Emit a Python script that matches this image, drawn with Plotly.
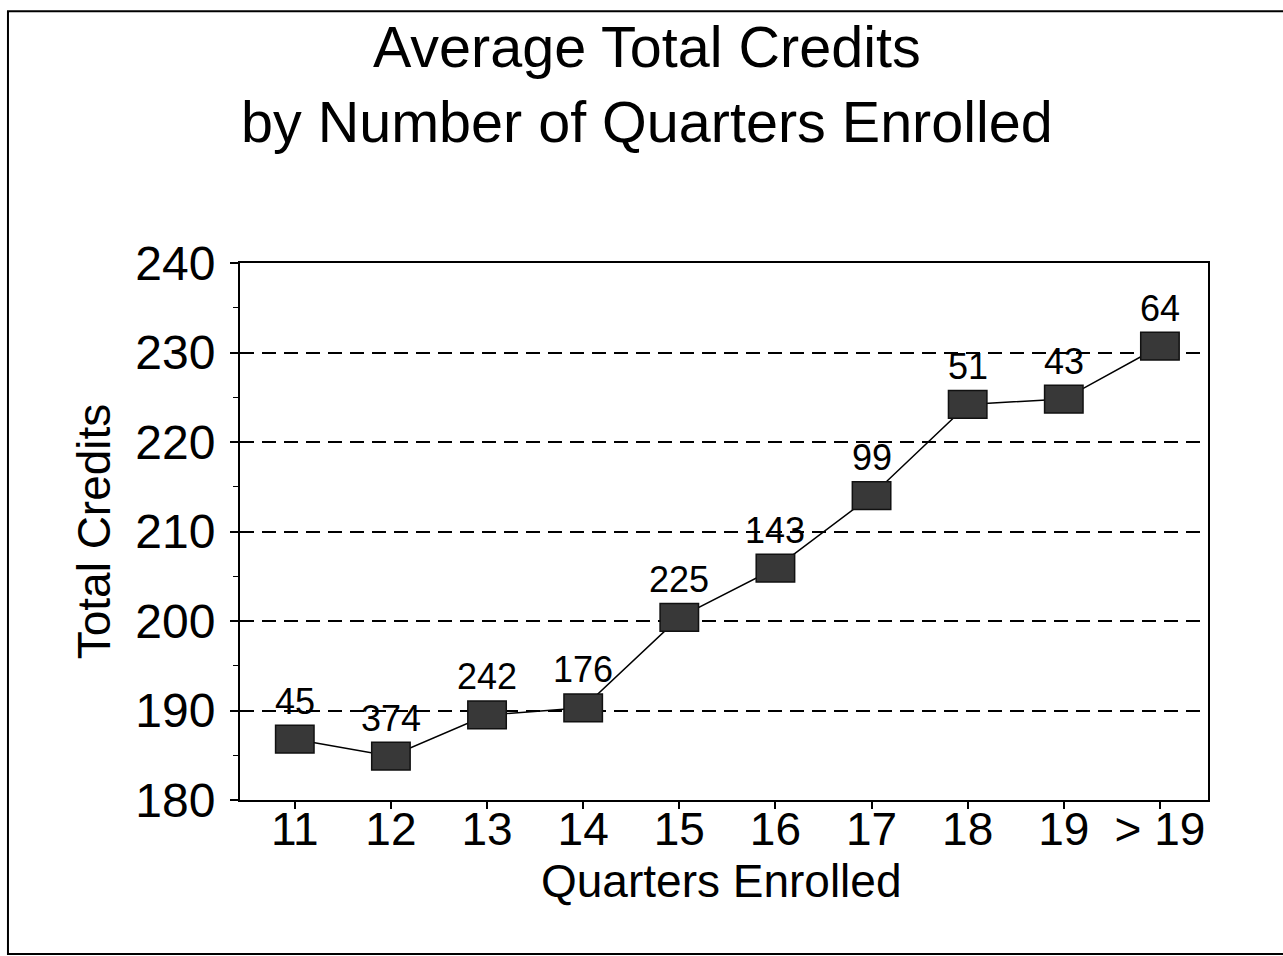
import plotly.graph_objects as go

# Quarters enrolled (category labels) and average total credits per group
quarters = ["11", "12", "13", "14", "15", "16", "17", "18", "19", "> 19"]
avg_credits = [186.8, 184.9, 189.5, 190.3, 200.4, 205.9, 214.0, 224.2, 224.8, 230.7]
# Number of students in each group (printed above each marker)
n_students = [45, 374, 242, 176, 225, 143, 99, 51, 43, 64]

y_ticks = [180, 190, 200, 210, 220, 230, 240]
title_lines = ["Average Total Credits", "by Number of Quarters Enrolled"]
x_title = "Quarters Enrolled"

FONT = "Arial, 'Liberation Sans', sans-serif"
idx = list(range(len(quarters)))
x_range = [-0.57, 9.5]
y_range = [180, 240]

fig = go.Figure()

# connecting line
fig.add_trace(go.Scatter(
    x=idx, y=avg_credits, mode="lines",
    line=dict(color="black", width=1.5),
    hoverinfo="skip", showlegend=False,
))

shapes = []
# rectangular markers, sized in data units
half_w = 0.2
half_h = 1.55
for i, v in zip(idx, avg_credits):
    shapes.append(dict(
        type="rect", xref="x", yref="y",
        x0=i - half_w, x1=i + half_w, y0=v - half_h, y1=v + half_h,
        fillcolor="#383838", line=dict(color="#111111", width=1.5), layer="above",
    ))

# outer page frame
shapes.append(dict(
    type="rect", xref="paper", yref="paper",
    x0=-0.2397, x1=1.09, y0=-0.2868, y1=1.469,
    line=dict(color="black", width=2), fillcolor="rgba(0,0,0,0)", layer="below",
))

annotations = []
for i, v, n in zip(idx, avg_credits, n_students):
    annotations.append(dict(
        x=i, y=v, xref="x", yref="y", text=str(n), showarrow=False,
        yshift=38, font=dict(family=FONT, size=36, color="black"),
    ))

# two-line chart title
for line, ypos in zip(title_lines, [1.4022, 1.2626]):
    annotations.append(dict(
        x=0.4205, y=ypos, xref="paper", yref="paper", text=line,
        showarrow=False, xanchor="center", yanchor="middle",
        font=dict(family=FONT, size=57.5, color="black"),
    ))

# x-axis title
annotations.append(dict(
    x=0.4974, y=-0.151, xref="paper", yref="paper", text=x_title,
    showarrow=False, xanchor="center", yanchor="middle",
    font=dict(family=FONT, size=46, color="black"),
))

fig.update_layout(
    width=1283, height=956,
    paper_bgcolor="white", plot_bgcolor="white",
    margin=dict(l=240, r=75, t=263, b=156),
    xaxis=dict(
        range=x_range, tickvals=idx, ticktext=quarters,
        showgrid=False, zeroline=False,
        showline=True, linecolor="black", linewidth=2, mirror=True,
        ticks="outside", ticklen=7, tickwidth=1.5, tickcolor="black",
        ticklabelstandoff=-19,
        tickfont=dict(family=FONT, size=46, color="black"),
    ),
    yaxis=dict(
        range=y_range, tickvals=y_ticks,
        showgrid=True, gridcolor="black", gridwidth=1.5, griddash="14px,8px",
        zeroline=False,
        showline=True, linecolor="black", linewidth=2, mirror=True,
        ticks="outside", ticklen=8, tickwidth=1.5, tickcolor="black",
        ticklabelstandoff=5,
        minor=dict(dtick=5, ticks="outside", ticklen=5, tickwidth=1.2,
                   tickcolor="black", showgrid=False),
        tickfont=dict(family=FONT, size=48, color="black"),
        title=dict(text="Total Credits", standoff=10,
                   font=dict(family=FONT, size=46, color="black")),
    ),
    shapes=shapes,
    annotations=annotations,
    showlegend=False,
)

fig.write_html("out.html")
